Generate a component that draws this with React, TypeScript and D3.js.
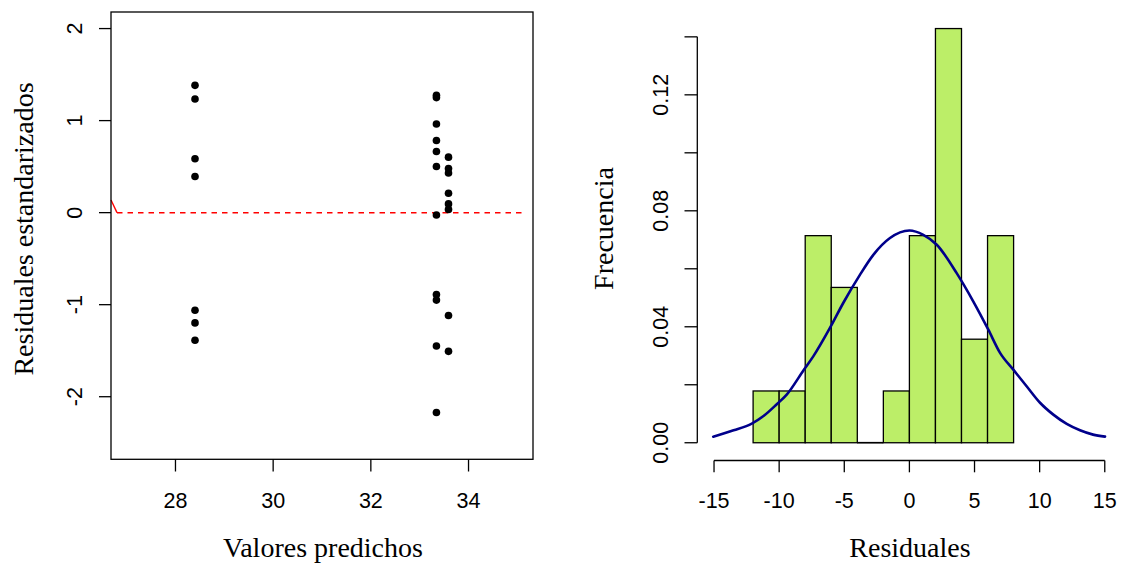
import React from "react";
import * as d3 from "d3";

// ---------- Data: left panel (residuals vs fitted) ----------
const predichos = [
  28.4, 28.4, 28.4, 28.4, 28.4, 28.4, 28.4,
  33.343, 33.343, 33.343, 33.343, 33.343, 33.343, 33.343, 33.343, 33.343, 33.343, 33.343,
  33.59, 33.59, 33.59, 33.59, 33.59, 33.59, 33.59, 33.59,
];
const residualesEst = [
  1.383, 1.235, 0.585, 0.392, -1.06, -1.198, -1.387,
  1.275, 1.25, 0.963, 0.784, 0.665, 0.501, -0.025, -0.89, -0.95, -1.449, -2.171,
  0.603, 0.48, 0.43, 0.211, 0.095, 0.035, -1.118, -1.507,
];
const leftXTicks = [28, 30, 32, 34];
const leftYTicks = [-2, -1, 0, 1, 2];

// ---------- Data: right panel (histogram of residuals) ----------
const breaks = [-12, -10, -8, -6, -4, -2, 0, 2, 4, 6, 8];
const counts = [1, 1, 4, 3, 0, 1, 4, 8, 2, 4];
const rightXTicks = [-15, -10, -5, 0, 5, 10, 15];
const rightYTicks = [0, 0.02, 0.04, 0.06, 0.08, 0.1, 0.12, 0.14];
const rightYLabels = ["0.00", "", "0.04", "", "0.08", "", "0.12", ""];
// density curve
const curveX = [-15.06, -13.5, -12.1, -11.2, -10.2, -9.42, -8.1, -7.38, -6.1, -5.08, -3.8, -2.77, -1.49, 0, 1.07, 2.1, 3.63, 4.91, 6.06, 6.96, 7.98, 9.0, 10.03, 11.05, 12.08, 13.1, 14.1, 15.02];
const curveY = [0.0021, 0.0043, 0.0066, 0.0092, 0.0132, 0.0166, 0.0252, 0.0298, 0.0396, 0.0482, 0.0579, 0.0648, 0.0706, 0.0732, 0.0717, 0.0683, 0.0585, 0.0487, 0.039, 0.031, 0.0252, 0.0195, 0.0138, 0.0097, 0.0065, 0.0043, 0.0028, 0.0021];

const SANS = "'Liberation Sans', Arial, sans-serif";
const SERIF = "'Liberation Serif', 'Times New Roman', serif";
const TICK_FS = 21.5;
const LAB_FS = 28;
const SW = 1.3;

export default function App() {
  // left scales
  const xL = d3.scaleLinear().domain([26.68, 35.32]).range([111, 533]);
  const yL = d3.scaleLinear().domain([-2.68, 2.18]).range([459.3, 12]);
  // right scales
  const xR = d3.scaleLinear().domain([-16.2, 16.2]).range([698.4, 1120.4]);
  const yR = d3.scaleLinear().domain([-0.00571, 0.14857]).range([459.3, 12]);

  const n = d3.sum(counts);
  const bins = counts.map((c, i) => ({
    x0: breaks[i],
    x1: breaks[i + 1],
    d: c / (n * (breaks[i + 1] - breaks[i])),
  }));

  const line = d3
    .line<number>()
    .x((_, i) => xR(curveX[i]))
    .y((d) => yR(d))
    .curve(d3.curveMonotoneX);

  return (
    <svg
      width={1125}
      height={564}
      style={{ position: "absolute", left: 0, top: 0, background: "#fff" }}
    >
      <rect x={0} y={0} width={1125} height={564} fill="#fff" />
      {/* ===== LEFT PANEL ===== */}
      <g>
        {/* red reference line */}
        <line x1={111} y1={200} x2={117} y2={yL(0)} stroke="#ff0000" strokeWidth={1.4} />
        <line
          x1={117}
          x2={xL(35.15)}
          y1={yL(0)}
          y2={yL(0)}
          stroke="#ff0000"
          strokeWidth={1.5}
          strokeDasharray="5.5,5"
        />
        {predichos.map((p, i) => (
          <circle key={i} cx={xL(p)} cy={yL(residualesEst[i])} r={3.8} fill="#000" />
        ))}
        <rect x={111} y={12} width={422} height={447.3} fill="none" stroke="#000" strokeWidth={SW} />
        {/* x axis */}
        {leftXTicks.map((t) => (
          <g key={t}>
            <line x1={xL(t)} x2={xL(t)} y1={459.3} y2={471.5} stroke="#000" strokeWidth={SW} />
            <text x={xL(t)} y={508.3} textAnchor="middle" fontFamily={SANS} fontSize={TICK_FS}>
              {t}
            </text>
          </g>
        ))}
        {/* y axis */}
        {leftYTicks.map((t) => (
          <g key={t}>
            <line x1={99} x2={111} y1={yL(t)} y2={yL(t)} stroke="#000" strokeWidth={SW} />
            <text
              transform={`translate(81.7,${yL(t)}) rotate(-90)`}
              textAnchor="middle"
              fontFamily={SANS}
              fontSize={TICK_FS}
            >
              {t}
            </text>
          </g>
        ))}
        <text x={323} y={556.7} textAnchor="middle" fontFamily={SERIF} fontSize={LAB_FS}>
          Valores predichos
        </text>
        <text
          transform={`translate(33.3,229) rotate(-90)`}
          textAnchor="middle"
          fontFamily={SERIF}
          fontSize={LAB_FS}
        >
          Residuales estandarizados
        </text>
      </g>

      {/* ===== RIGHT PANEL ===== */}
      <g>
        {bins.map((b, i) =>
          b.d > 0 ? (
            <rect
              key={i}
              x={xR(b.x0)}
              y={yR(b.d)}
              width={xR(b.x1) - xR(b.x0)}
              height={yR(0) - yR(b.d)}
              fill="#BCEE68"
              stroke="#000"
              strokeWidth={SW}
            />
          ) : (
            <line
              key={i}
              x1={xR(b.x0)}
              x2={xR(b.x1)}
              y1={yR(0)}
              y2={yR(0)}
              stroke="#000"
              strokeWidth={SW + 0.4}
            />
          )
        )}
        <path
          d={line(curveY) || ""}
          fill="none"
          stroke="#00008B"
          strokeWidth={2.6}
          strokeLinejoin="round"
          strokeLinecap="round"
        />
        {/* x axis */}
        <line x1={xR(-15)} x2={xR(15)} y1={460.5} y2={460.5} stroke="#000" strokeWidth={SW} />
        {rightXTicks.map((t) => (
          <g key={t}>
            <line x1={xR(t)} x2={xR(t)} y1={460.5} y2={472.3} stroke="#000" strokeWidth={SW} />
            <text x={xR(t)} y={508.3} textAnchor="middle" fontFamily={SANS} fontSize={TICK_FS}>
              {t}
            </text>
          </g>
        ))}
        {/* y axis */}
        <line x1={697.3} x2={697.3} y1={yR(0)} y2={yR(0.14)} stroke="#000" strokeWidth={SW} />
        {rightYTicks.map((t, i) => (
          <g key={t}>
            <line x1={684.5} x2={697.3} y1={yR(t)} y2={yR(t)} stroke="#000" strokeWidth={SW} />
            {rightYLabels[i] && (
              <text
                transform={`translate(668.3,${yR(t)}) rotate(-90)`}
                textAnchor="middle"
                fontFamily={SANS}
                fontSize={TICK_FS}
              >
                {rightYLabels[i]}
              </text>
            )}
          </g>
        ))}
        <text x={910} y={556.7} textAnchor="middle" fontFamily={SERIF} fontSize={LAB_FS}>
          Residuales
        </text>
        <text
          transform={`translate(613.3,228.5) rotate(-90)`}
          textAnchor="middle"
          fontFamily={SERIF}
          fontSize={LAB_FS}
        >
          Frecuencia
        </text>
      </g>
    </svg>
  );
}
